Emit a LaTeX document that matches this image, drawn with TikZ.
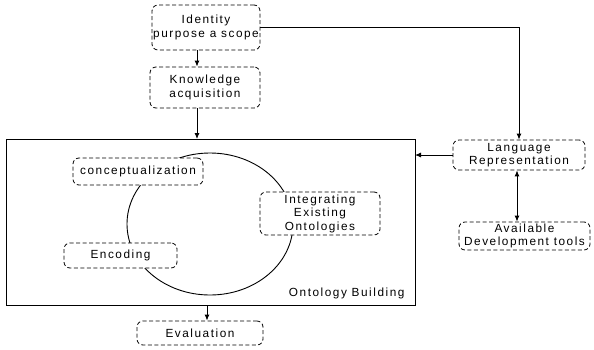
\documentclass[tikz,border=0pt]{standalone}
\usepackage{fontspec}
\setmainfont{Liberation Sans}[LetterSpace=13]
\usetikzlibrary{arrows.meta}
\begin{document}
\begin{tikzpicture}[x=1pt,y=-1pt,font=\fontsize{11.8}{13.5}\selectfont]
            \tikzstyle{stage}=[draw,dash pattern=on 4pt off 2.5pt,rounded corners=6pt,fill=white,align=center,inner sep=0pt,line width=.8pt]
            \tikzstyle{flow}=[-{Latex[length=6pt,width=5pt]},line width=.9pt]
            \useasboundingbox (0,0) rectangle (594,349);

            %outer_box
            \draw[line width=1pt] (6,139) rectangle (415,305);
            \coordinate (bl) at (6,305);
            \coordinate (tr) at (415,139);
            \node[anchor=east] (obl) at (408,293) {Ontology Building};

            %cycle
            \draw[line width=.9pt] (210,224) ellipse [x radius=83, y radius=71];

            %stages
            \node[stage,minimum width=108,minimum height=45] (ident) at (206,27.5) {Identity\\purpose a scope};
            \node[stage,minimum width=110,minimum height=41] (know) at (205,87.5) {Knowledge\\acquisition};
            \node[stage,minimum width=130,minimum height=27] (conc) at (138,171.5) {conceptualization};
            \node[stage,minimum width=120,minimum height=43] (integ) at (320,213.5) {Integrating\\Existing\\Ontologies};
            \node[stage,minimum width=113,minimum height=25] (enc) at (120.5,255.5) {Encoding};
            \node[stage,minimum width=132,minimum height=30] (lang) at (519,155) {Language\\Representation};
            \node[stage,minimum width=131,minimum height=28] (tools) at (524.5,236) {Available\\Development tools};
            \node[stage,minimum width=126,minimum height=24] (eval) at (200,333) {Evaluation};

            %connectors
            \draw[flow] ([xshift=-9pt]ident.south) -- ([xshift=-8pt]know.north);
            \draw[flow] ([xshift=-8pt]know.south) -- ([xshift=-8pt]know.south |- tr);
            \draw[flow] (ident.east) -| (lang.north);
            \draw[flow] (lang.west) -- (lang.west -| tr);
            \draw[flow,{Latex[length=6pt,width=5pt]}-{Latex[length=6pt,width=5pt]}] ([xshift=-2pt]lang.south) -- ([xshift=-2pt]lang.south |- tools.north);
            \draw[flow] ([xshift=7pt]eval.north |- bl) -- ([xshift=7pt]eval.north);
\end{tikzpicture}
\end{document}
